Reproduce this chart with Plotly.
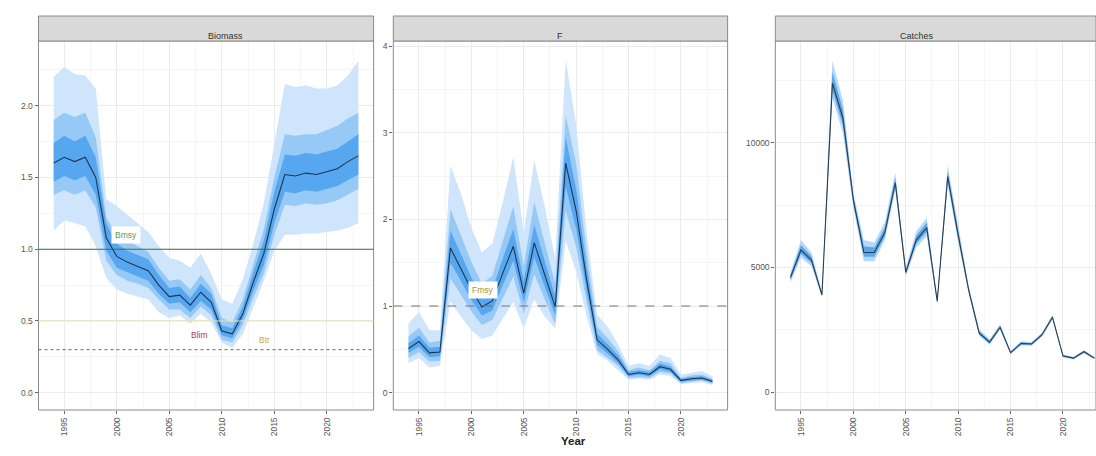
import plotly.graph_objects as go

years = list(range(1994, 2024))

# ---------------- Biomass (relative to Bmsy) ----------------
B_med = [1.60, 1.64, 1.61, 1.64, 1.50, 1.08, 0.95, 0.91, 0.88, 0.85, 0.75, 0.67, 0.68, 0.61, 0.70,
         0.63, 0.43, 0.41, 0.55, 0.77, 0.97, 1.28, 1.52, 1.51, 1.53, 1.52, 1.54, 1.56, 1.61, 1.65]
B_hi95 = [2.20, 2.27, 2.22, 2.21, 2.12, 1.35, 1.30, 1.24, 1.18, 1.12, 1.02, 0.94, 0.92, 0.87, 0.97,
          0.83, 0.65, 0.62, 0.79, 1.04, 1.32, 1.75, 2.15, 2.13, 2.14, 2.12, 2.12, 2.14, 2.21, 2.31]
B_lo95 = [1.13, 1.20, 1.18, 1.16, 1.02, 0.80, 0.72, 0.69, 0.67, 0.65, 0.56, 0.52, 0.54, 0.48, 0.55,
          0.49, 0.35, 0.31, 0.41, 0.60, 0.78, 0.99, 1.10, 1.10, 1.11, 1.11, 1.12, 1.13, 1.15, 1.18]
B_hi80 = [1.90, 1.95, 1.92, 1.95, 1.78, 1.22, 1.10, 1.06, 1.02, 0.98, 0.87, 0.78, 0.79, 0.72, 0.82,
          0.73, 0.52, 0.49, 0.65, 0.90, 1.14, 1.50, 1.80, 1.79, 1.80, 1.80, 1.83, 1.86, 1.91, 1.95]
B_lo80 = [1.38, 1.41, 1.38, 1.41, 1.29, 0.92, 0.82, 0.78, 0.76, 0.73, 0.65, 0.58, 0.58, 0.52, 0.60,
          0.54, 0.37, 0.35, 0.47, 0.66, 0.83, 1.10, 1.31, 1.30, 1.32, 1.31, 1.32, 1.34, 1.38, 1.42]
B_hi50 = [1.74, 1.79, 1.75, 1.79, 1.64, 1.18, 1.04, 0.99, 0.96, 0.93, 0.82, 0.73, 0.74, 0.66, 0.76,
          0.69, 0.47, 0.45, 0.60, 0.84, 1.06, 1.40, 1.66, 1.65, 1.67, 1.66, 1.68, 1.70, 1.75, 1.80]
B_lo50 = [1.47, 1.51, 1.48, 1.51, 1.38, 0.99, 0.87, 0.84, 0.81, 0.78, 0.69, 0.62, 0.63, 0.56, 0.64,
          0.58, 0.40, 0.38, 0.51, 0.71, 0.89, 1.18, 1.40, 1.39, 1.41, 1.40, 1.42, 1.44, 1.48, 1.52]

# ---------------- F (relative to Fmsy) ----------------
F_med = [0.51, 0.59, 0.46, 0.47, 1.67, 1.43, 1.19, 0.99, 1.06, 1.38, 1.69, 1.15, 1.73, 1.36, 0.99,
         2.65, 2.10, 1.30, 0.61, 0.50, 0.38, 0.21, 0.23, 0.21, 0.30, 0.27, 0.14, 0.16, 0.17, 0.13]
F_hi95 = [0.80, 0.93, 0.72, 0.72, 2.62, 2.30, 1.90, 1.62, 1.72, 2.20, 2.72, 1.85, 2.68, 2.15, 1.55,
          3.84, 3.10, 1.85, 0.90, 0.76, 0.56, 0.31, 0.34, 0.31, 0.44, 0.40, 0.21, 0.23, 0.25, 0.19]
F_lo95 = [0.34, 0.40, 0.29, 0.31, 1.05, 0.88, 0.72, 0.62, 0.66, 0.85, 1.05, 0.74, 1.08, 0.88, 0.74,
          1.75, 1.40, 0.88, 0.45, 0.37, 0.26, 0.15, 0.16, 0.15, 0.21, 0.19, 0.10, 0.11, 0.12, 0.09]
F_hi80 = [0.65, 0.75, 0.58, 0.60, 2.12, 1.82, 1.51, 1.26, 1.35, 1.75, 2.15, 1.46, 2.20, 1.73, 1.26,
          3.20, 2.65, 1.62, 0.76, 0.63, 0.48, 0.26, 0.29, 0.26, 0.37, 0.34, 0.17, 0.20, 0.21, 0.16]
F_lo80 = [0.40, 0.47, 0.36, 0.37, 1.32, 1.13, 0.94, 0.78, 0.84, 1.09, 1.34, 0.91, 1.37, 1.08, 0.79,
          2.10, 1.68, 1.05, 0.49, 0.40, 0.31, 0.17, 0.18, 0.17, 0.24, 0.22, 0.11, 0.13, 0.14, 0.10]
F_hi50 = [0.57, 0.66, 0.52, 0.53, 1.87, 1.60, 1.33, 1.11, 1.19, 1.55, 1.89, 1.29, 1.94, 1.52, 1.11,
          2.95, 2.35, 1.45, 0.68, 0.56, 0.43, 0.24, 0.26, 0.24, 0.34, 0.30, 0.16, 0.18, 0.19, 0.15]
F_lo50 = [0.46, 0.53, 0.41, 0.42, 1.50, 1.29, 1.07, 0.89, 0.95, 1.24, 1.52, 1.04, 1.56, 1.22, 0.89,
          2.38, 1.89, 1.17, 0.55, 0.45, 0.34, 0.19, 0.21, 0.19, 0.27, 0.24, 0.13, 0.14, 0.15, 0.12]

# ---------------- Catches ----------------
C_med = [4600, 5700, 5300, 3900, 12400, 11000, 7700, 5600, 5600, 6400, 8400, 4800, 6100, 6600, 3650,
         8650, 6300, 4100, 2370, 2000, 2600, 1580, 1950, 1930, 2300, 3000, 1450, 1360, 1620, 1360]
C_hi95 = [4800, 6100, 5600, 4000, 13300, 11700, 8000, 6100, 6000, 6800, 8800, 5000, 6450, 7000, 3750,
          9100, 6700, 4250, 2520, 2120, 2720, 1650, 2040, 2010, 2390, 3100, 1510, 1420, 1690, 1420]
C_lo95 = [4400, 5400, 5050, 3800, 11800, 10400, 7400, 5250, 5250, 6100, 8100, 4650, 5800, 6250, 3550,
          8300, 6000, 3950, 2250, 1900, 2500, 1510, 1870, 1860, 2220, 2910, 1390, 1310, 1560, 1310]
C_hi80 = [4700, 5900, 5450, 3950, 12850, 11350, 7850, 5850, 5800, 6600, 8600, 4900, 6270, 6800, 3700,
          8870, 6500, 4180, 2440, 2060, 2660, 1610, 1990, 1970, 2340, 3050, 1480, 1390, 1650, 1390]
C_lo80 = [4500, 5550, 5175, 3850, 12100, 10700, 7550, 5425, 5425, 6250, 8250, 4725, 5950, 6425, 3600,
          8475, 6150, 4025, 2310, 1950, 2550, 1550, 1910, 1895, 2260, 2955, 1420, 1335, 1590, 1335]

panel_titles = ["Biomass", "F", "Catches"]
x_ticks = [1995, 2000, 2005, 2010, 2015, 2020]

W, H = 1096, 456
OUTER = "#cfe5fb"
MID = "#96c9f5"
CORE = "#56a7ef"
LINE = "#1f3450"

fig = go.Figure()


def add_fan(xa, ya, med, bands, line_col):
    for lo, hi, col in bands:
        fig.add_trace(go.Scatter(
            x=years + years[::-1], y=hi + lo[::-1], fill="toself", fillcolor=col,
            line=dict(width=0), mode="lines", hoverinfo="skip", showlegend=False,
            xaxis=xa, yaxis=ya))
    fig.add_trace(go.Scatter(x=years, y=med, mode="lines", line=dict(color=line_col, width=1.1),
                             showlegend=False, xaxis=xa, yaxis=ya))


add_fan("x", "y", B_med, [(B_lo95, B_hi95, OUTER), (B_lo80, B_hi80, MID), (B_lo50, B_hi50, CORE)], LINE)
add_fan("x2", "y2", F_med, [(F_lo95, F_hi95, OUTER), (F_lo80, F_hi80, MID), (F_lo50, F_hi50, CORE)], LINE)
add_fan("x3", "y3", C_med, [(C_lo95, C_hi95, "#b3d8f8"), (C_lo80, C_hi80, "#5aa8ec")], "#2f3b4e")

# panel geometry in pixels
px = [(38.5, 373.6), (393.3, 727.6), (775.3, 1096.0)]
top_px, bot_px = 41, 410
strip_top = 16
xranges = [[1992.55, 2024.45], [1992.55, 2024.45], [1992.55, 1992.55 + (1096 - 775.3) / 10.48]]
yranges = [[-0.12, 2.45], [-0.2, 4.06], [-722, 14090]]
ydticks = [0.5, 1, 5000]
yminor = [0.25, 0.5, 2500]
yfmt = [".1f", "d", "d"]

ydom = [(H - bot_px) / H, (H - top_px) / H]
grid_major = "#ebebeb"
grid_minor = "#f5f5f5"
tickfont = dict(family="Liberation Sans, Arial, sans-serif", size=8.5, color="#555555")

layout = {}
for i in range(3):
    sfx = "" if i == 0 else str(i + 1)
    dom = [px[i][0] / W, px[i][1] / W]
    layout["xaxis" + sfx] = dict(
        domain=dom, range=xranges[i], anchor="y" + sfx, tickvals=x_ticks,
        ticktext=[str(t) for t in x_ticks], tickangle=-90, tickfont=tickfont,
        showgrid=True, gridcolor=grid_major, gridwidth=1, zeroline=False,
        ticks="outside", ticklen=3, tickcolor="#666666", showline=False,
        minor=dict(tick0=1992.5, dtick=2.5, showgrid=True, gridcolor=grid_minor, ticks=""),
    )
    layout["yaxis" + sfx] = dict(
        domain=ydom, range=yranges[i], anchor="x" + sfx, dtick=ydticks[i], tick0=0,
        tickformat=yfmt[i], tickfont=tickfont, showgrid=True, gridcolor=grid_major,
        zeroline=False, ticks="outside", ticklen=3, tickcolor="#666666", showline=False,
        minor=dict(tick0=0, dtick=yminor[i], showgrid=True, gridcolor=grid_minor, ticks=""),
    )

shapes = []
annotations = []
for i in range(3):
    x0, x1 = px[i][0] / W, px[i][1] / W
    # panel border
    shapes.append(dict(type="rect", xref="paper", yref="paper", x0=x0, x1=x1,
                       y0=ydom[0], y1=ydom[1], line=dict(color="#8a8a8a", width=1),
                       fillcolor="rgba(0,0,0,0)", layer="above"))
    # strip
    shapes.append(dict(type="rect", xref="paper", yref="paper", x0=x0, x1=x1,
                       y0=(H - top_px) / H, y1=(H - strip_top) / H,
                       line=dict(color="#8a8a8a", width=1), fillcolor="#d9d9d9", layer="above"))
    annotations.append(dict(x=(x0 + x1) / 2, y=(H - (top_px + strip_top) / 2) / H,
                            xref="paper", yref="paper", text=panel_titles[i], showarrow=False,
                            font=dict(family="Liberation Sans, Arial, sans-serif", size=9,
                                      color="#333333")))

# reference lines
shapes.append(dict(type="line", xref="x domain", yref="y", x0=0, x1=1, y0=1.0, y1=1.0,
                   line=dict(color="#3f6b45", width=1.1)))
shapes.append(dict(type="line", xref="x domain", yref="y", x0=0, x1=1, y0=0.5, y1=0.5,
                   line=dict(color="#e9e2a6", width=1.1)))
shapes.append(dict(type="line", xref="x domain", yref="y", x0=0, x1=1, y0=0.3, y1=0.3,
                   line=dict(color="#7d5a6a", width=1, dash="dot")))
shapes.append(dict(type="line", xref="x2 domain", yref="y2", x0=0, x1=1, y0=1.0, y1=1.0,
                   line=dict(color="#777777", width=1.1, dash="dash")))

lab_font = "Liberation Sans, Arial, sans-serif"
annotations += [
    dict(x=2000.9, y=1.10, xref="x", yref="y", text="Bmsy", showarrow=False,
         font=dict(family=lab_font, size=8.5, color="#5e9a48"), bgcolor="white", borderpad=3),
    dict(x=2007.9, y=0.40, xref="x", yref="y", text="Blim", showarrow=False,
         font=dict(family=lab_font, size=8.5, color="#a8385a"), bgcolor="white", borderpad=2),
    dict(x=2014.1, y=0.37, xref="x", yref="y", text="Btr", showarrow=False,
         font=dict(family=lab_font, size=8.5, color="#e0a22a"), bgcolor="white", borderpad=2),
    dict(x=2001.1, y=1.18, xref="x2", yref="y2", text="Fmsy", showarrow=False,
         font=dict(family=lab_font, size=8.5, color="#b0922e"), bgcolor="white", borderpad=3),
    dict(x=573 / W, y=(H - 449) / H, xref="paper", yref="paper", text="<b>Year</b>",
         showarrow=False, font=dict(family=lab_font, size=11.5, color="#222222")),
]

fig.update_layout(
    width=W, height=H, margin=dict(l=0, r=0, t=0, b=0),
    paper_bgcolor="white", plot_bgcolor="white", showlegend=False,
    shapes=shapes, annotations=annotations, **layout,
)

fig.write_html("out.html")
